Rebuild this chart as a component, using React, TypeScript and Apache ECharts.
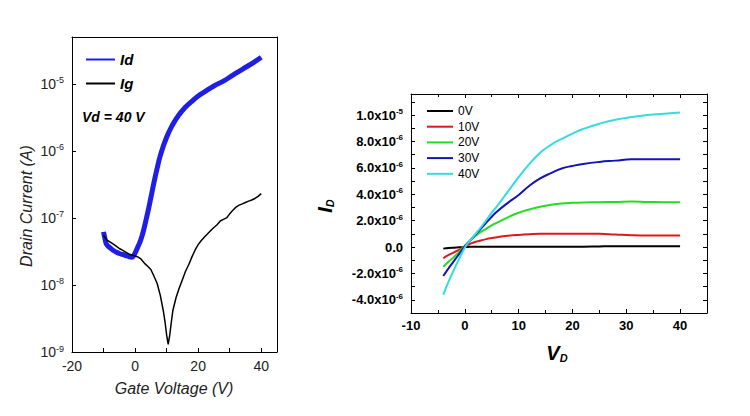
import React, { useEffect, useRef } from "react";
import * as echarts from "echarts";

// ---- Left chart: transfer curve (log scale) ----
const idGateV = [-10, -9.5, -9, -8, -7, -6, -5, -4, -3, -2, -1, -0.5, 0, 1, 2, 3, 4, 5, 6, 7, 8, 10, 12, 14, 16, 18, 20, 22, 25, 28, 31, 34, 37, 40];
const idCurrent = [6.2e-8, 4.8e-8, 4.0e-8, 3.6e-8, 3.3e-8, 3.1e-8, 2.95e-8, 2.85e-8, 2.75e-8, 2.65e-8, 2.6e-8, 2.7e-8, 3.0e-8, 3.8e-8, 5.0e-8, 7.5e-8, 1.2e-7, 2.0e-7, 3.4e-7, 5.5e-7, 8.5e-7, 1.6e-6, 2.5e-6, 3.5e-6, 4.5e-6, 5.5e-6, 6.6e-6, 7.6e-6, 9.3e-6, 1.1e-5, 1.35e-5, 1.65e-5, 2.0e-5, 2.5e-5];
const igGateV = [-10, -9, -8, -7, -6, -5, -4, -3, -2, -1, 0, 1, 2, 3, 4, 5, 6, 7, 8, 9, 9.5, 10, 10.5, 11, 11.5, 12, 13, 14, 15, 16, 17, 18, 19, 20, 21, 22, 23, 24, 25, 26, 27, 28, 29, 30, 31, 32, 33, 34, 35, 36, 37, 38, 39, 40];
const igCurrent = [5.5e-8, 4.7e-8, 4.4e-8, 4.1e-8, 3.8e-8, 3.5e-8, 3.3e-8, 3.1e-8, 2.9e-8, 2.8e-8, 2.7e-8, 2.6e-8, 2.4e-8, 2.1e-8, 1.9e-8, 1.7e-8, 1.35e-8, 1.05e-8, 7e-9, 4e-9, 2.8e-9, 1.8e-9, 1.3e-9, 1.8e-9, 2.8e-9, 4.2e-9, 6.5e-9, 9e-9, 1.2e-8, 1.6e-8, 2e-8, 2.6e-8, 3.3e-8, 4e-8, 4.6e-8, 5.2e-8, 5.8e-8, 6.5e-8, 7.2e-8, 7.9e-8, 9e-8, 9.5e-8, 1.0e-7, 1.15e-7, 1.3e-7, 1.45e-7, 1.55e-7, 1.62e-7, 1.7e-7, 1.78e-7, 1.85e-7, 1.95e-7, 2.1e-7, 2.3e-7];

// ---- Right chart: output curves (units of 1e-6 A) ----
const vd = [-4, -3, -2, -1, 0, 1, 2, 3, 4, 5, 6, 8, 10, 12, 14, 16, 18, 20, 22, 25, 28, 31, 34, 37, 40];
const vg0 = [-0.12, -0.08, -0.05, -0.02, 0, 0.02, 0.03, 0.03, 0.03, 0.03, 0.03, 0.03, 0.03, 0.03, 0.03, 0.03, 0.03, 0.03, 0.03, 0.05, 0.06, 0.06, 0.06, 0.06, 0.06];
const vg10 = [-0.85, -0.6, -0.4, -0.2, 0.05, 0.25, 0.4, 0.5, 0.6, 0.68, 0.75, 0.85, 0.92, 0.97, 1.0, 1.0, 1.0, 1.0, 1.0, 1.0, 0.95, 0.9, 0.88, 0.88, 0.88];
const vg20 = [-1.5, -1.1, -0.75, -0.35, 0.1, 0.5, 0.85, 1.15, 1.4, 1.65, 1.85, 2.25, 2.6, 2.85, 3.05, 3.2, 3.3, 3.35, 3.38, 3.4, 3.42, 3.45, 3.42, 3.4, 3.4];
const vg30 = [-2.2, -1.6, -1.05, -0.5, 0.05, 0.5, 0.95, 1.4, 1.85, 2.3, 2.7, 3.35, 3.95, 4.65, 5.2, 5.6, 5.95, 6.15, 6.3, 6.45, 6.55, 6.65, 6.65, 6.65, 6.65];
const vg40 = [-3.6, -2.6, -1.7, -0.85, -0.05, 0.5, 1.0, 1.5, 2.05, 2.6, 3.1, 4.2, 5.3, 6.3, 7.15, 7.75, 8.2, 8.6, 8.95, 9.35, 9.65, 9.85, 10.0, 10.1, 10.2];
const outNames = ["0V", "10V", "20V", "30V", "40V"];
const outColors = ["#000000", "#dd1a1a", "#22dd22", "#1414b4", "#33dddd"];
const outSeries = [vg0, vg10, vg20, vg30, vg40];

const FONT = "Arial, 'Liberation Sans', sans-serif";

export default function App() {
  const ref = useRef<HTMLDivElement>(null);
  useEffect(() => {
    if (!ref.current) return;
    document.body.style.margin = "0";
    const chart = echarts.init(ref.current, null, { renderer: "svg" });
    const sup = { fontSize: 9, fontFamily: FONT, color: "#222", verticalAlign: "top", padding: [0, 0, 7, 0] };
    const supB = { fontSize: 8, fontWeight: "bold", fontFamily: FONT, color: "#000", verticalAlign: "top", padding: [0, 0, 7, 0] };

    const logLabel = (v: number) => {
      const e = Math.log10(v);
      const r = Math.round(e);
      if (Math.abs(e - r) > 0.01) return "";
      return `{b|10}{s|${r}}`;
    };
    const linLabel = (v: number) => {
      const k0 = v / 1e-6;
      const k = Math.round(k0);
      if (Math.abs(k0 - k) > 0.01 || k % 2 !== 0) return "";
      if (k === 0) return "{b|0.0}";
      let mant: number, ex: number;
      if (Math.abs(k) >= 10) { mant = k / 10; ex = -5; } else { mant = k; ex = -6; }
      return `{b|${mant.toFixed(1)}x10}{s|${ex}}`;
    };

    const series: any[] = [
      {
        name: "Id", type: "line", xAxisIndex: 0, yAxisIndex: 0, symbol: "none", smooth: true,
        lineStyle: { color: "#1e1ee6", width: 5 }, itemStyle: { color: "#1e1ee6" },
        data: idGateV.map((v, i) => [v, idCurrent[i]]),
      },
      {
        name: "Ig", type: "line", xAxisIndex: 0, yAxisIndex: 0, symbol: "none",
        lineStyle: { color: "#000", width: 1.5 }, itemStyle: { color: "#000" },
        data: igGateV.map((v, i) => [v, igCurrent[i]]),
      },
      ...outSeries.map((arr, j) => ({
        name: outNames[j], type: "line", xAxisIndex: 1, yAxisIndex: 1, symbol: "none", smooth: true,
        lineStyle: { color: outColors[j], width: 2 }, itemStyle: { color: outColors[j] },
        data: vd.map((v, i) => [v, arr[i] * 1e-6]),
      })),
    ];

    chart.setOption({
      animation: false,
      backgroundColor: "#fff",
      textStyle: { fontFamily: FONT },
      grid: [
        { left: 72, top: 37, width: 205, height: 315 },
        { left: 411, top: 94, width: 296, height: 219 },
      ],
      legend: [
        {
          data: ["Id", "Ig"], orient: "vertical", left: 80, top: 47, itemWidth: 29, itemHeight: 14, itemGap: 9,
          itemStyle: { opacity: 0 },
          textStyle: { fontFamily: FONT, fontWeight: "bold", fontStyle: "italic", fontSize: 15, color: "#000" },
        },
        {
          data: outNames, orient: "vertical", left: 421, top: 100, itemWidth: 26, itemHeight: 12, itemGap: 3.7,
          itemStyle: { opacity: 0 },
          textStyle: { fontFamily: FONT, fontSize: 12, color: "#000" },
        },
      ],
      xAxis: [
        {
          gridIndex: 0, type: "value", min: -20, max: 45, interval: 10, splitLine: { show: false },
          axisLine: { onZero: false, lineStyle: { color: "#000" } },
          axisTick: { inside: true, length: 4, lineStyle: { color: "#000" } },
          axisLabel: { fontSize: 14, color: "#222", margin: 7, formatter: (v: number) => (v % 20 === 0 && v <= 40 ? String(v) : "") },
        },
        {
          gridIndex: 1, type: "value", min: -10, max: 45, interval: 10, splitLine: { show: false },
          axisLine: { onZero: false, lineStyle: { color: "#000" } },
          axisTick: { inside: true, length: 4, lineStyle: { color: "#000" } },
          minorTick: { show: true, splitNumber: 2, length: 3, lineStyle: { color: "#000" } },
          axisLabel: { fontSize: 13, fontWeight: "bold", color: "#000", margin: 6, formatter: (v: number) => (v <= 40 ? String(v) : "") },
        },
        {
          gridIndex: 0, type: "value", position: "top", min: -20, max: 45, interval: 10, splitLine: { show: false },
          axisLine: { onZero: false, lineStyle: { color: "#000" } }, axisTick: { show: false }, axisLabel: { show: false },
        },
        {
          gridIndex: 1, type: "value", position: "top", min: -10, max: 45, interval: 10, splitLine: { show: false },
          axisLine: { onZero: false, lineStyle: { color: "#000" } },
          axisTick: { inside: true, length: 4, lineStyle: { color: "#000" } },
          minorTick: { show: true, splitNumber: 2, length: 3, lineStyle: { color: "#000" } },
          axisLabel: { show: false },
        },
      ],
      yAxis: [
        {
          gridIndex: 0, type: "log", logBase: 10, min: 1e-9, max: 5e-5, splitLine: { show: false },
          axisLine: { onZero: false, lineStyle: { color: "#000" } },
          axisTick: { inside: true, length: 4, lineStyle: { color: "#000" } },
          axisLabel: {
            margin: 8, formatter: logLabel,
            rich: { b: { fontSize: 14, fontFamily: FONT, color: "#222" }, s: sup },
          },
        },
        {
          gridIndex: 1, type: "value", min: -5e-6, max: 1.16e-5, interval: 1e-6, splitLine: { show: false },
          axisLine: { onZero: false, lineStyle: { color: "#000" } },
          axisTick: { inside: true, length: 4, lineStyle: { color: "#000" } },
          axisLabel: {
            margin: 8, formatter: linLabel,
            rich: { b: { fontSize: 13, fontWeight: "bold", fontFamily: FONT, color: "#000" }, s: supB },
          },
        },
        {
          gridIndex: 0, type: "log", logBase: 10, position: "right", min: 1e-9, max: 5e-5, splitLine: { show: false },
          axisLine: { onZero: false, lineStyle: { color: "#000" } }, axisTick: { show: false }, axisLabel: { show: false },
        },
        {
          gridIndex: 1, type: "value", position: "right", min: -5e-6, max: 1.16e-5, interval: 1e-6, splitLine: { show: false },
          axisLine: { onZero: false, lineStyle: { color: "#000" } },
          axisTick: { inside: true, length: 4, lineStyle: { color: "#000" } },
          axisLabel: { show: false },
        },
      ],
      graphic: [
        {
          type: "text", left: 82, top: 110,
          style: { text: "Vd = 40 V", font: `italic bold 14px ${FONT}`, fill: "#000" },
        },
        {
          type: "text", x: 26, y: 206, rotation: Math.PI / 2,
          style: { text: "Drain Current (A)", font: `italic 16px ${FONT}`, fill: "#222", align: "center", verticalAlign: "middle" },
        },
        {
          type: "text", x: 174, y: 388,
          style: { text: "Gate Voltage (V)", font: `italic 16px ${FONT}`, fill: "#222", align: "center", verticalAlign: "middle" },
        },
        {
          type: "text", x: 325, y: 206, rotation: Math.PI / 2,
          style: {
            text: "{i|I}{d|D}", align: "center", verticalAlign: "middle",
            rich: {
              i: { font: `italic bold 20px ${FONT}`, fill: "#000" },
              d: { font: `italic bold 11px ${FONT}`, fill: "#000", padding: [10, 0, 0, 0] },
            },
          },
        },
        {
          type: "text", x: 557, y: 353,
          style: {
            text: "{v|V}{d|D}", align: "center", verticalAlign: "middle",
            rich: {
              v: { font: `italic bold 20px ${FONT}`, fill: "#000" },
              d: { font: `italic bold 11px ${FONT}`, fill: "#000", padding: [10, 0, 0, 0] },
            },
          },
        },
      ],
      series,
    });
    return () => chart.dispose();
  }, []);
  return <div ref={ref} style={{ width: 750, height: 416 }} />;
}
